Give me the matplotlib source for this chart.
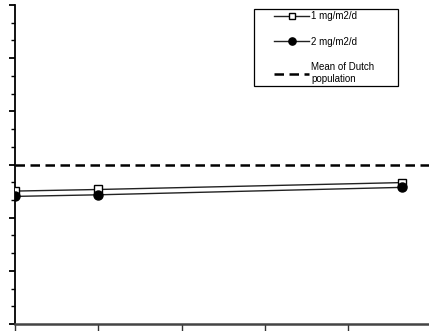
import numpy as np
import matplotlib.pyplot as plt
from matplotlib.patches import Rectangle
from matplotlib.ticker import MultipleLocator, NullFormatter

plt.rcParams['font.family'] = ['Liberation Sans', 'DejaVu Sans']

# time points and modelled levels for the two dose groups
time_points = [0.0, 1.0, 4.65]
dose_1mg = [2.50, 2.53, 2.66]
dose_2mg = [2.40, 2.43, 2.57]
dutch_mean = 3.0

labels = ['1 mg/m2/d', '2 mg/m2/d', 'Mean of Dutch\npopulation']

W, H = 429, 331
fig = plt.figure(figsize=(W / 100, H / 100), dpi=100)
ax = fig.add_axes([15 / W, 7 / H, 1 - 15 / W, 319 / H])

ax.plot(time_points, dose_1mg, color='#222222', lw=1.0, marker='s',
        markersize=5.5, markerfacecolor='white', markeredgecolor='black',
        markeredgewidth=1.0, label=labels[0], zorder=3)
ax.plot(time_points, dose_2mg, color='#222222', lw=1.0, marker='o',
        markersize=6.5, markerfacecolor='black', markeredgecolor='black',
        label=labels[1], zorder=3)
ax.axhline(dutch_mean, color='black', lw=1.8, ls=(0, (3.8, 2.2)),
           label=labels[2], zorder=2)

ax.set_xlim(0, 414 / 83.3)
ax.set_ylim(0, 6)

ax.xaxis.set_major_locator(MultipleLocator(1))
ax.yaxis.set_major_locator(MultipleLocator(1))
ax.yaxis.set_minor_locator(MultipleLocator(1 / 3))
ax.xaxis.set_major_formatter(NullFormatter())
ax.yaxis.set_major_formatter(NullFormatter())
ax.tick_params(axis='x', direction='out', length=5, width=1.0, color='#333333')
ax.tick_params(axis='y', which='major', direction='out', length=4, width=1.3)
ax.tick_params(axis='y', which='minor', direction='out', length=3, width=1.0)

for side in ('top', 'right'):
    ax.spines[side].set_visible(False)
ax.spines['left'].set_linewidth(1.3)
ax.spines['bottom'].set_linewidth(1.8)
ax.spines['bottom'].set_color('#444444')

# legend entries without frame, box drawn separately
leg = ax.legend(loc='upper left', bbox_to_anchor=(274 / W, 1 - 11 / H),
                bbox_transform=fig.transFigure, fontsize=7, frameon=False,
                borderpad=0, labelspacing=1.62, handlelength=3.6,
                handletextpad=0.25, markerscale=0.8, borderaxespad=0)
fig.patches.append(Rectangle((254 / W, 1 - 86 / H), 144 / W, 77 / H,
                             transform=fig.transFigure, fill=False,
                             edgecolor='black', linewidth=0.9))

fig.savefig('out.png', dpi=100)
